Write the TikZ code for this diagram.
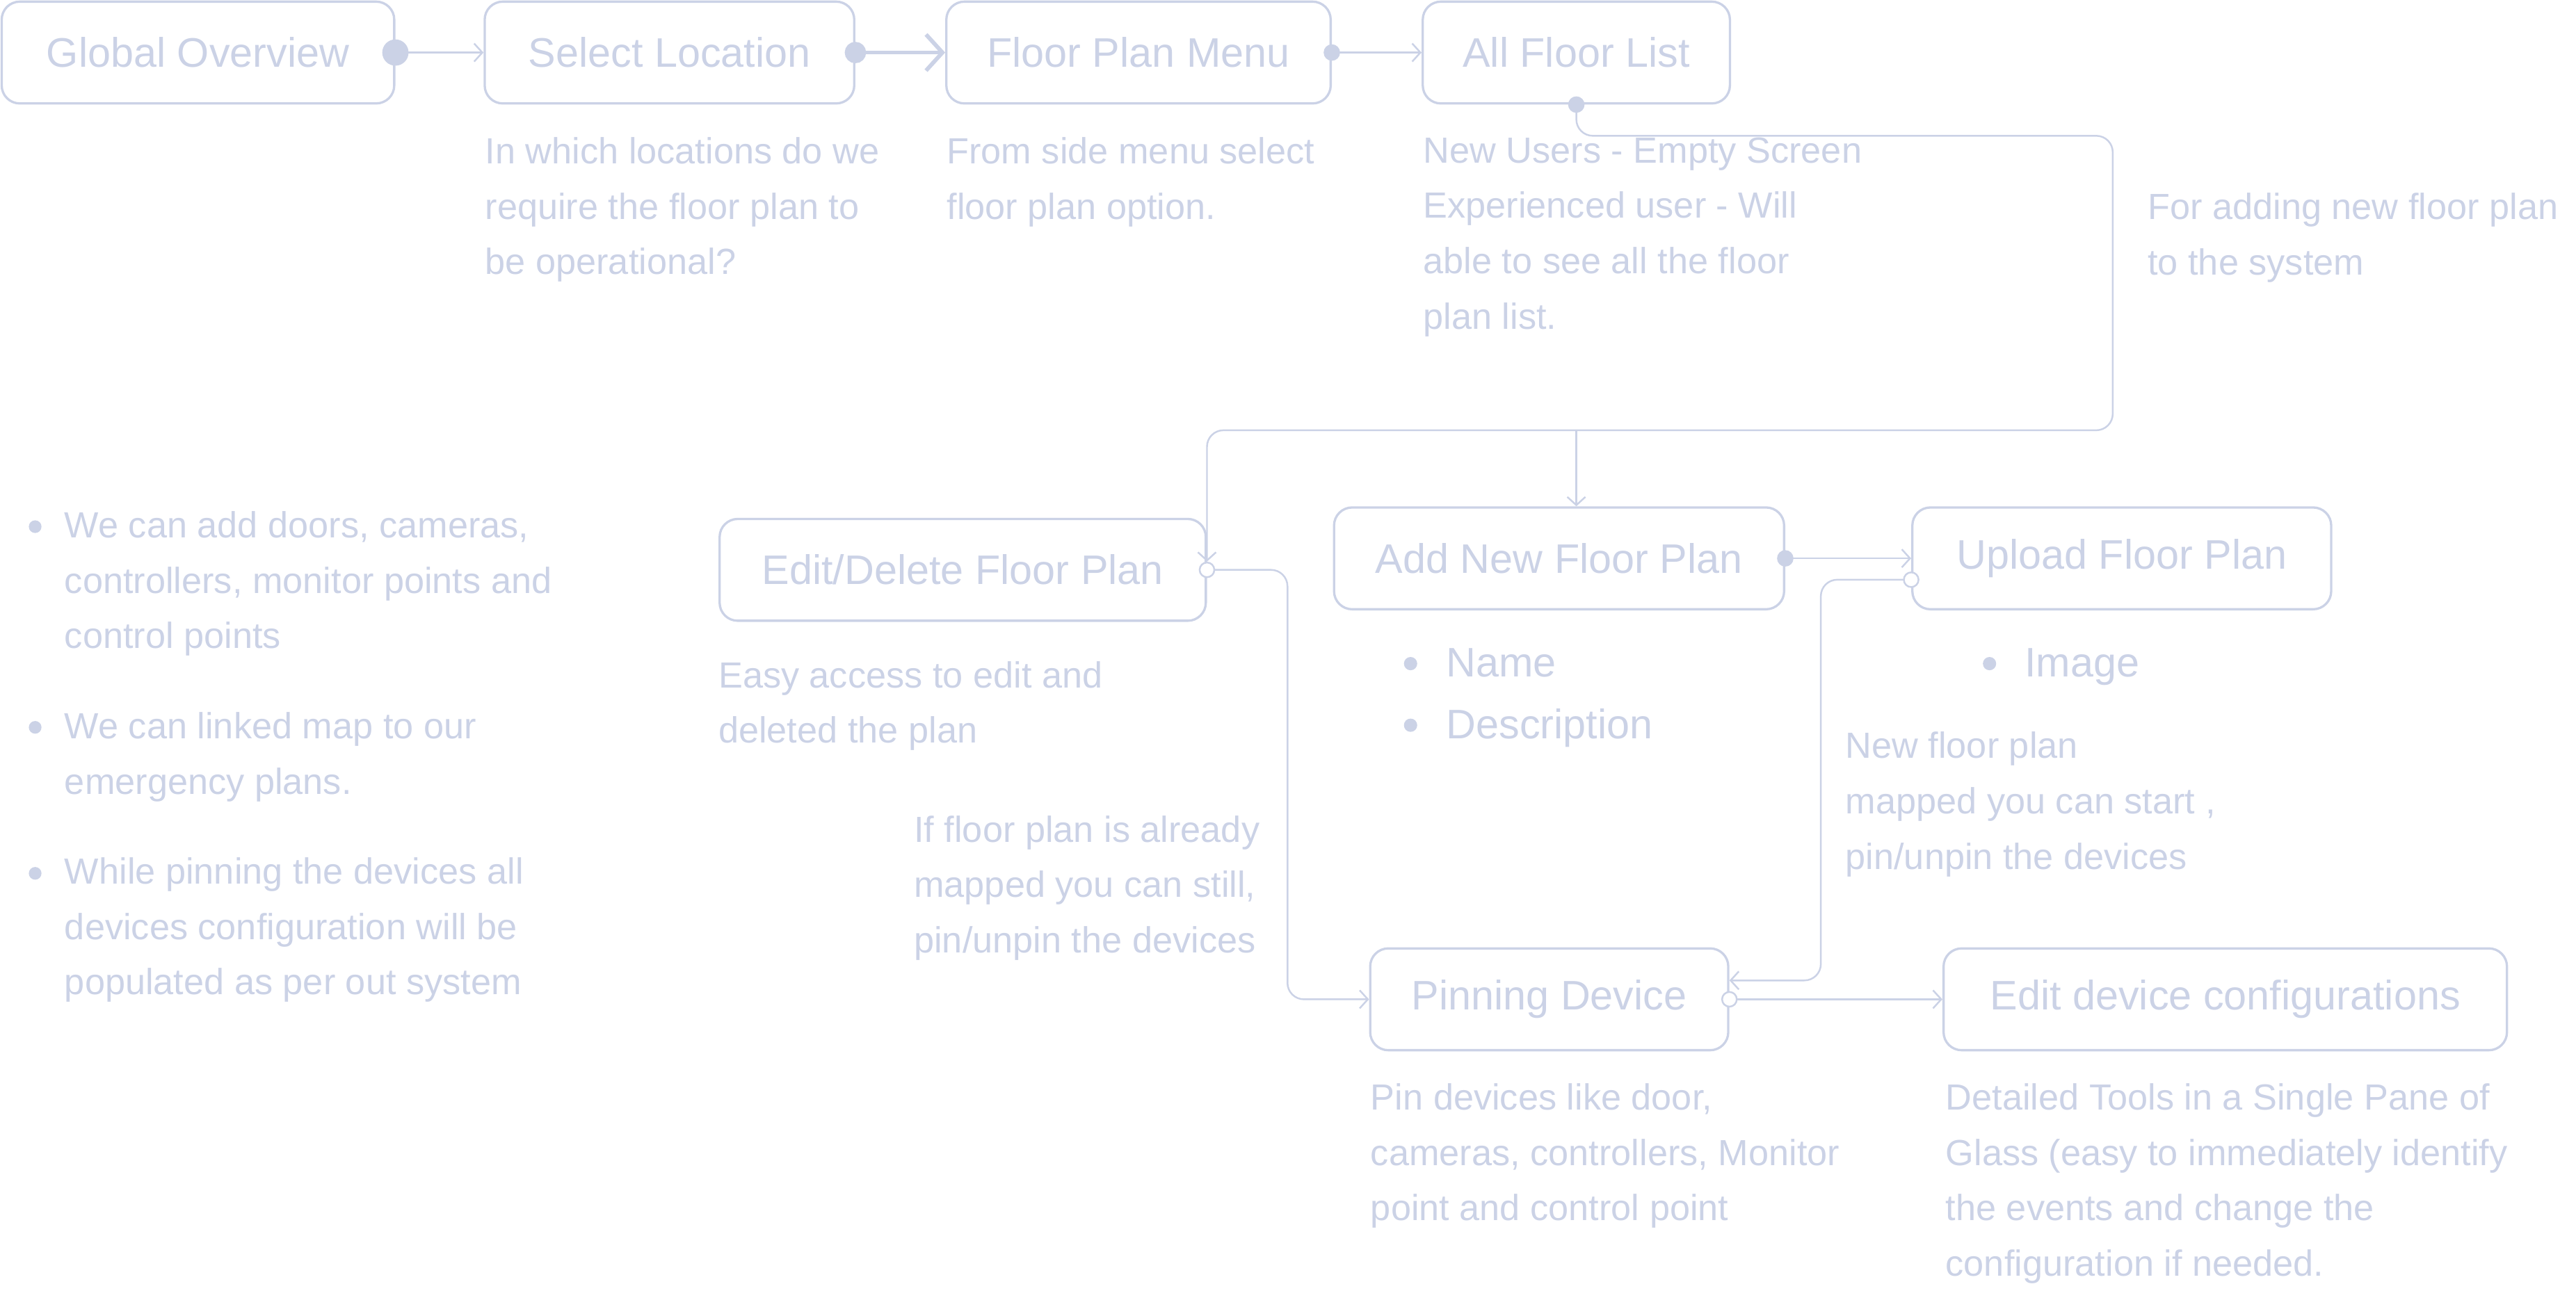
\documentclass[tikz,border=0pt]{standalone}
\usepackage{fontspec}
\setmainfont{Liberation Sans}
\usetikzlibrary{arrows.meta}
\definecolor{lav}{RGB}{203,210,230}

\begin{document}
\begin{tikzpicture}[x=0.02cm,y=-0.02cm,
		every node/.style={text=lav},
		box/.style={draw=lav,line width=0.8pt,rounded corners=0.22cm,minimum height=1.24cm,font=\fontsize{14.3}{17}\selectfont},
		note/.style={anchor=north west,inner sep=0pt,align=left,font=\fontsize{12.6}{19.2}\selectfont},
		item/.style={anchor=base west,inner sep=0pt,font=\fontsize{14.3}{17}\selectfont},
		flow/.style={draw=lav,line width=0.6pt,rounded corners=0.2cm,-{Straight Barb[length=0.1cm,width=0.22cm]}},
		dot/.style={arrows={Circle[length=#1]-Straight Barb[length=0.1cm,width=0.22cm]},shorten <=-0.5*#1},
		ring/.style={arrows={Circle[length=0.2cm,fill=white]-Straight Barb[length=0.1cm,width=0.22cm]},shorten <=-0.1cm}]
		\useasboundingbox (0,0) rectangle (1568,786);
		% top row
		\node[box,minimum width=4.78cm] (glob) at (120.5,32) {Global Overview};
		\node[box,minimum width=4.5cm] (sel) at (407.5,32) {Select Location};
		\node[box,minimum width=4.68cm] (fpm) at (693,32) {Floor Plan Menu};
		\node[box,minimum width=3.74cm] (afl) at (959.5,32) {All Floor List};
		\node[note] (selnote) at (295,83.3) {In which locations do we\\require the floor plan to\\be operational?};
		\node[note] (fpmnote) at (576,83.3) {From side menu select\\floor plan option.};
		\node[note] (aflnote) at (866,83.3) {New Users - Empty Screen\\Experienced user - Will\\able to see all the floor\\plan list.};
		\node[note] (addnote) at (1307,117.3) {For adding new floor plan\\to the system};
		% middle row
		\node[box,minimum width=5.92cm] (edit) at (586,347) {Edit/Delete Floor Plan};
		\node[box,minimum width=5.48cm] (add) at (949,340) {Add New Floor Plan};
		\node[box,minimum width=5.1cm] (upl) at (1291.5,340) {Upload Floor Plan};
		\node[item] (name) at (880,412) {Name};
		\node[item] (desc) at (880,449.6) {Description};
		\node[item] (img) at (1232,412) {Image};
		\foreach \x/\y in {858.6/404.1,858.6/441.6,1211/404.1}
			\fill[lav] (\x,\y) circle (2.3pt);
		\node[note] (editnote) at (437,402.3) {Easy access to edit and\\deleted the plan};
		\node[note] (mapnote) at (556,496.3) {If floor plan is already\\mapped you can still,\\pin/unpin the devices};
		\node[note] (uplnote) at (1123,445.3) {New floor plan\\mapped you can start ,\\pin/unpin the devices};
		% bottom row
		\node[box,minimum width=4.36cm] (pin) at (943,608.5) {Pinning Device};
		\node[box,minimum width=6.86cm] (edc) at (1354.5,608.5) {Edit device configurations};
		\node[note] (pinnote) at (834,659.4) {Pin devices like door,\\cameras, controllers, Monitor\\point and control point};
		\node[note] (edcnote) at (1184,659.4) {Detailed Tools in a Single Pane of\\Glass (easy to immediately identify\\the events and change the\\configuration if needed.};
		% side notes
		\node[note] (side1) at (39,311.1) {We can add doors, cameras,\\controllers, monitor points and\\control points};
		\node[note] (side2) at (39,433.4) {We can linked map to our\\emergency plans.};
		\node[note] (side3) at (39,521.8) {While pinning the devices all\\devices configuration will be\\populated as per out system};
		\foreach \y in {320.7,442.9,531.8}
			\fill[lav] (21.4,\y) circle (2.2pt);
		% connectors
		\coordinate (rt) at (1286,262);
		\draw[flow,dot=0.32cm] (glob) -- (sel);
		\draw[flow,line width=1.4pt,arrows={Circle[length=0.26cm]-Straight Barb[length=0.2cm,width=0.44cm]},shorten <=-0.13cm] (sel) -- (fpm);
		\draw[flow,dot=0.2cm] (fpm) -- (afl);
		\draw[flow,dot=0.2cm] (afl.south) -- ++(0,19) -| (rt) -| ([yshift=0.1cm]edit.east);
		\draw[flow] (afl.south |- rt) -- (add.north -| afl.south);
		\draw[flow,dot=0.2cm] (add) -- (upl);
		\draw[flow,ring] ([yshift=-0.26cm]upl.west) -- ++(-55,0) |- ([yshift=0.23cm]pin.east);
		\draw[flow,ring] (edit.east) -- ++(49,0) |- (pin.west);
		\draw[flow,ring] (pin) -- (edc);
	\end{tikzpicture}
\end{document}
